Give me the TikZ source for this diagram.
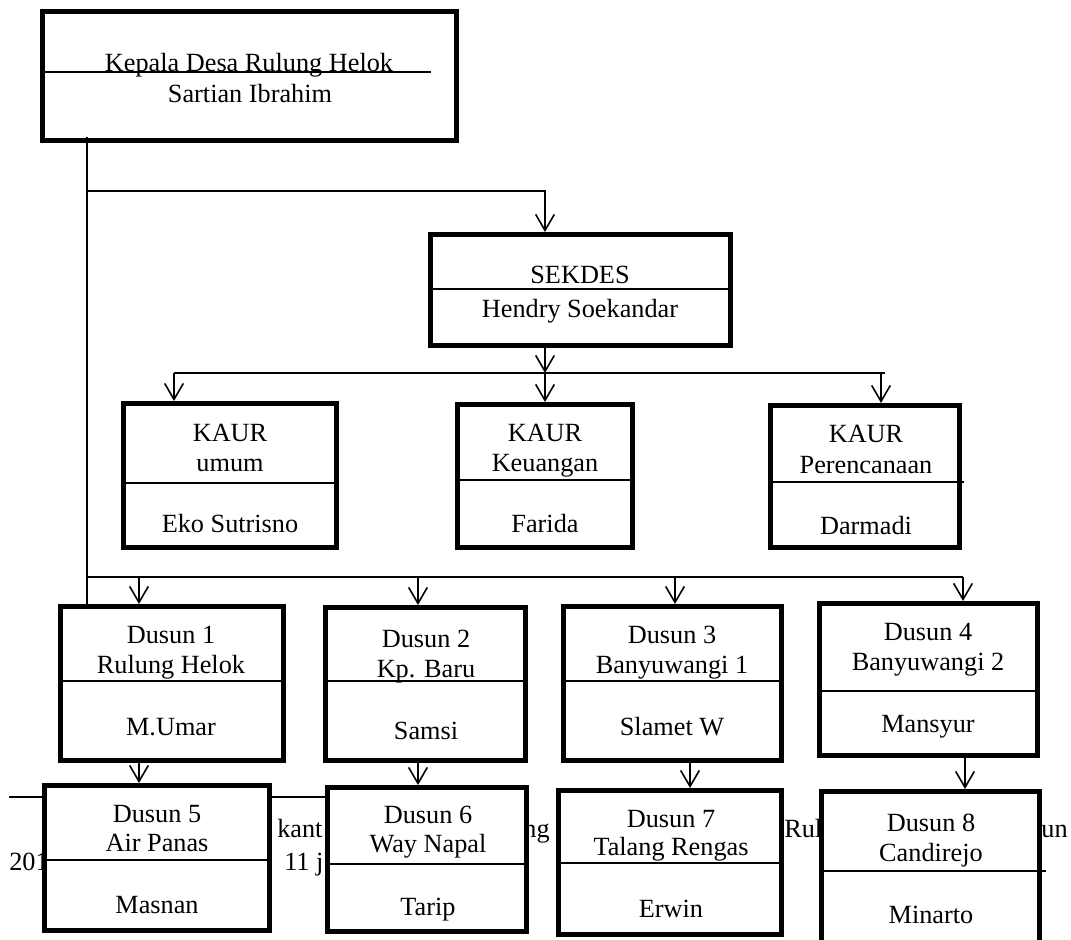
\documentclass[tikz,border=0pt]{standalone}
\usepackage{fontspec}
\setmainfont{Liberation Serif}
\usetikzlibrary{arrows.meta}
\begin{document}
\begin{tikzpicture}[x=0.75pt,y=-0.75pt,
  bx/.style={draw, line width=3.5pt, fill=white, inner sep=0pt, outer sep=1.75pt},
  ln/.style={line width=1.2pt},
  arr/.style={line width=1.2pt, -{Straight Barb[length=12pt,width=14pt]}},
  tx/.style={anchor=base, inner sep=0pt, font=\fontsize{19.7}{22.5}\selectfont},
  bgl/.style={anchor=base west, inner sep=0pt, font=\fontsize{19.7}{22.5}\selectfont},
  bgr/.style={anchor=base east, inner sep=0pt, font=\fontsize{19.7}{22.5}\selectfont}]
\useasboundingbox (0,0) rectangle (1071,939);
\clip (0,0) rectangle (1071,939);
\fill[white] (0,0) rectangle (1071,939);

% background text and line (partly hidden behind boxes)
\draw[ln] (9,797) -- (400,797);
\node[bgl] (bg1) at (277,837) {kant};
\node[bgr] (bg2) at (550,837) {ng};
\node[bgl] (bg3) at (784,837) {Rulu};
\node[bgr] (bg4) at (1068,837) {un};
\node[bgl] (bg5) at (9,870) {201};
\node[bgl] (bg6) at (284,870) {11 j};

% boxes
\node[bx, minimum width=310.75pt, minimum height=97pt] (kepala) at (249.5,76) {};
\node[bx, minimum width=225.25pt, minimum height=83.5pt] (sekdes) at (580.5,290) {};
\node[bx, minimum width=160pt, minimum height=108.25pt] (umum) at (230,475.5) {};
\node[bx, minimum width=131.5pt, minimum height=107.5pt] (keu) at (545,476) {};
\node[bx, minimum width=142pt, minimum height=106.75pt] (ren) at (865,476.5) {};
\node[bx, minimum width=167.5pt, minimum height=115.75pt] (d1) at (172,683.5) {};
\node[bx, minimum width=150.25pt, minimum height=115pt] (d2) at (425.5,684) {};
\node[bx, minimum width=163.75pt, minimum height=115.75pt] (d3) at (672.5,683.5) {};
\node[bx, minimum width=163.75pt, minimum height=114.25pt] (d4) at (928.5,679.5) {};
\node[bx, minimum width=169pt, minimum height=109pt] (d5) at (157,858) {};
\node[bx, minimum width=149.5pt, minimum height=108.25pt] (d6) at (427,859.5) {};
\node[bx, minimum width=167.5pt, minimum height=108.25pt] (d7) at (670,862.5) {};
\node[bx, minimum width=163.75pt, minimum height=124.75pt] (d8) at (930.5,874.5) {};

% dividers
\draw[ln] (44,72) -- (431,72);
\draw[ln] (430,289) -- (731,289);
\draw[ln] (123,483) -- (337,483);
\draw[ln] (457,480) -- (633,480);
\draw[ln] (770,482) -- (964,482);
\draw[ln] (60,681) -- (284,681);
\draw[ln] (325,681) -- (526,681);
\draw[ln] (563,681) -- (782,681);
\draw[ln] (819,691) -- (1038,691);
\draw[ln] (44,860) -- (270,860);
\draw[ln] (327,864) -- (527,864);
\draw[ln] (558,863) -- (782,863);
\draw[ln] (821,871) -- (1046,871);

% texts
\node[tx] (t0a) at (249,71) {Kepala Desa Rulung Helok};
\node[tx] (t0b) at (250,102) {Sartian Ibrahim};
\node[tx] (t1a) at (580,283) {SEKDES};
\node[tx] (t1b) at (580,317) {Hendry Soekandar};
\node[tx] (t2a) at (230,441) {KAUR};
\node[tx] (t2b) at (230,471) {umum};
\node[tx] (t2c) at (230,532) {Eko Sutrisno};
\node[tx] (t3a) at (545,441) {KAUR};
\node[tx] (t3b) at (545,471) {Keuangan};
\node[tx] (t3c) at (545,532) {Farida};
\node[tx] (t4a) at (866,442) {KAUR};
\node[tx] (t4b) at (866,473) {Perencanaan};
\node[tx] (t4c) at (866,534) {Darmadi};
\node[tx] (t5a) at (171,643) {Dusun 1};
\node[tx] (t5b) at (171,673) {Rulung Helok};
\node[tx] (t5c) at (171,735) {M.Umar};
\node[tx] (t6a) at (426,647) {Dusun 2};
\node[tx] (t6b) at (426,677) {Kp. Baru};
\node[tx] (t6c) at (426,739) {Samsi};
\node[tx] (t7a) at (672,643) {Dusun 3};
\node[tx] (t7b) at (672,673) {Banyuwangi 1};
\node[tx] (t7c) at (672,735) {Slamet W};
\node[tx] (t8a) at (928,640) {Dusun 4};
\node[tx] (t8b) at (928,670) {Banyuwangi 2};
\node[tx] (t8c) at (928,732) {Mansyur};
\node[tx] (t9a) at (157,822) {Dusun 5};
\node[tx] (t9b) at (157,851) {Air Panas};
\node[tx] (t9c) at (157,913) {Masnan};
\node[tx] (t10a) at (428,823) {Dusun 6};
\node[tx] (t10b) at (428,852) {Way Napal};
\node[tx] (t10c) at (428,915) {Tarip};
\node[tx] (t11a) at (671,827) {Dusun 7};
\node[tx] (t11b) at (671,855) {Talang Rengas};
\node[tx] (t11c) at (671,917) {Erwin};
\node[tx] (t12a) at (931,831) {Dusun 8};
\node[tx] (t12b) at (931,861) {Candirejo};
\node[tx] (t12c) at (931,923) {Minarto};

% connectors
\coordinate (trunk) at (87,191);
\coordinate (sk) at (545,191);
\draw[ln] ([yshift=4.5pt]trunk |- kepala.south) -- (trunk |- d1.north);
\draw[arr] (trunk) -- (sk) -- (sk |- sekdes.north);

\coordinate (kb1) at (174,373);
\coordinate (kb2) at (545,373);
\coordinate (kb3) at (881,373);
\coordinate (kbR) at (885,373);
\draw[arr] (sekdes.south -| kb2) -- (kb2);
\draw[ln] (kb1) -- (kbR);
\draw[arr] (kb1) -- (kb1 |- umum.north);
\draw[arr] (kb2) -- (kb2 |- keu.north);
\draw[arr] (kb3) -- (kb3 |- ren.north);

\coordinate (db0) at (87,577);
\coordinate (db1) at (139,577);
\coordinate (db2) at (418,577);
\coordinate (db3) at (675,577);
\coordinate (db4) at (963,577);
\draw[ln] (db0) -- (db4);
\draw[arr] (db1) -- (db1 |- d1.north);
\draw[arr] (db2) -- (db2 |- d2.north);
\draw[arr] (db3) -- (db3 |- d3.north);
\draw[arr] (db4) -- (db4 |- d4.north);

\coordinate (a3) at (690,770);
\coordinate (a4) at (965,770);
\draw[arr] (d1.south -| db1) -- (d5.north -| db1);
\draw[arr] (d2.south -| db2) -- (d6.north -| db2);
\draw[arr] (d3.south -| a3) -- (d7.north -| a3);
\draw[arr] (d4.south -| a4) -- (d8.north -| a4);
\end{tikzpicture}
\end{document}
